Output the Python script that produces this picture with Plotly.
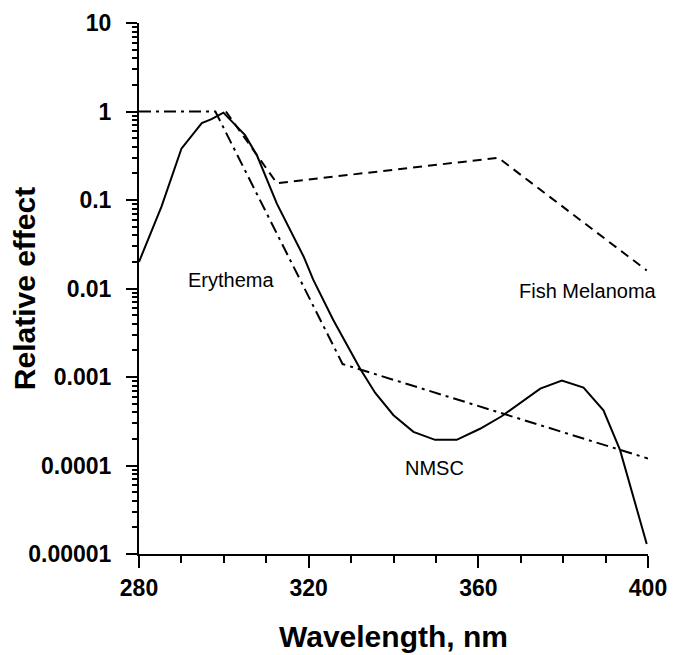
import math
import plotly.graph_objects as go

# NMSC action spectrum (solid)
nmsc_wl = [280, 285.3, 290, 294.8, 297.1, 299.9, 305, 307.8, 312.5, 318.8, 321.1, 325.8,
           332.1, 335.7, 340, 344.7, 349.8, 354.9, 360.4, 365.5, 374.6, 379.7, 384.8,
           389.5, 393.4, 399.7]
nmsc_val = [0.020, 0.084, 0.38, 0.74, 0.82, 0.97, 0.54, 0.32, 0.091, 0.023, 0.0125, 0.0044,
            0.00125, 0.00066, 0.00037, 0.00024, 0.000195, 0.000195, 0.00026, 0.00036,
            0.00074, 0.00091, 0.00076, 0.00042, 0.00015, 0.000013]

# Erythema (dash-dot)
ery_wl = [280, 298, 328, 400]
ery_val = [1.0, 1.0, 0.0014, 0.00012]

# Fish melanoma (dashed)
fish_wl = [300.5, 312.5, 364.7, 399.7]
fish_val = [1.0, 0.155, 0.30, 0.016]

ytick_vals = [1e-5, 1e-4, 1e-3, 1e-2, 0.1, 1, 10]
ytick_text = ['0.00001', '0.0001', '0.001', '0.01', '0.1', '1', '10']
# minor log ticks 2..9 in each decade
minor_y = [m * 10.0 ** e for e in range(-5, 1) for m in range(2, 10)]

fig = go.Figure()
fig.add_trace(go.Scatter(x=nmsc_wl, y=nmsc_val, mode='lines',
                         line=dict(color='black', width=2)))
fig.add_trace(go.Scatter(x=ery_wl, y=ery_val, mode='lines',
                         line=dict(color='black', width=2, dash='12px,5px,3px,5px')))
fig.add_trace(go.Scatter(x=fish_wl, y=fish_val, mode='lines',
                         line=dict(color='black', width=2, dash='9px,6px')))
# empty trace so the minor-tick overlay axis gets drawn
fig.add_trace(go.Scatter(x=[], y=[], yaxis='y2', hoverinfo='skip'))

# curve labels (annotation y on a log axis is given as log10)
labels = [('Erythema', 301.8, 0.0125), ('Fish Melanoma', 385.9, 0.0093), ('NMSC', 349.6, 9.4e-5)]
for txt, lx, ly in labels:
    fig.add_annotation(x=lx, y=math.log10(ly), text=txt, showarrow=False,
                       font=dict(size=20, color='black', family='Liberation Sans'))

fig.update_layout(
    width=676,
    height=655,
    margin=dict(l=131, r=36, t=15, b=109),
    plot_bgcolor='white',
    paper_bgcolor='white',
    showlegend=False,
    font_family='Liberation Sans',
    font_color='black',
    xaxis=dict(
        range=[280, 400],
        tickvals=[280, 320, 360, 400],
        ticks='outside', ticklen=12, tickwidth=2, tickcolor='black',
        minor=dict(dtick=10, ticks='outside', ticklen=7, tickwidth=1.5, tickcolor='black'),
        showline=True, linecolor='black', linewidth=2,
        showgrid=False, zeroline=False, automargin=False,
        tickfont=dict(size=23, weight='bold'),
        title=dict(text='Wavelength, nm', font=dict(size=30, weight='bold'), standoff=26),
    ),
    yaxis=dict(
        type='log',
        range=[-5, 1],
        tickvals=ytick_vals, ticktext=ytick_text,
        ticks='outside', ticklen=11, tickwidth=2, tickcolor='black',
        showline=True, linecolor='black', linewidth=2,
        showgrid=False, zeroline=False, automargin=False,
        tickfont=dict(size=23, weight='bold'),
        ticklabelstandoff=10,
        title=dict(text='Relative effect', font=dict(size=30, weight='bold'), standoff=10),
    ),
    yaxis2=dict(
        type='log',
        range=[-5, 1],
        overlaying='y', anchor='x', side='left',
        tickvals=minor_y, showticklabels=False,
        ticks='outside', ticklen=6, tickwidth=1.5, tickcolor='black',
        showline=False, showgrid=False, zeroline=False, automargin=False,
    ),
)

fig.write_html('out.html')
